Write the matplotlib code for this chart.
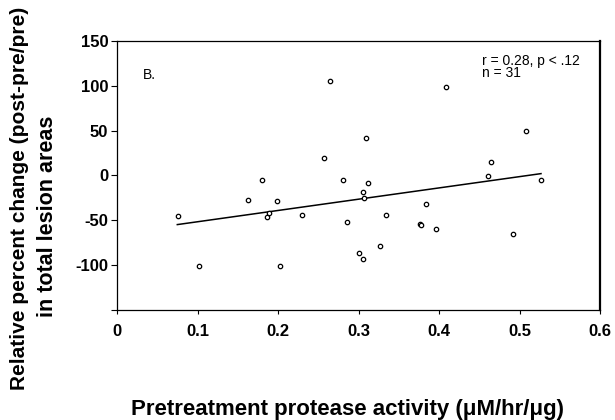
import matplotlib
matplotlib.use("Agg")
import matplotlib.pyplot as plt

plt.rcParams['font.family'] = ['Liberation Sans', 'DejaVu Sans']

# Data
protease = [0.075, 0.102, 0.163, 0.180, 0.186, 0.188, 0.198, 0.202, 0.230, 0.257,
            0.264, 0.280, 0.285, 0.300, 0.306, 0.306, 0.307, 0.309, 0.312, 0.326,
            0.334, 0.376, 0.377, 0.384, 0.396, 0.409, 0.461, 0.464, 0.492, 0.508,
            0.526]
change = [-45, -101, -27, -5.5, -46.5, -42.5, -29, -101, -44, 20,
          106, -5.5, -52, -87, -94, -19, -25, 42, -8, -79,
          -44, -54, -56, -32, -60, 99, -1, 15, -65, 50,
          -5.5]
fit_x = [0.0746, 0.5266]
fit_y = [-55, 2]

x_ticks = [0, 0.1, 0.2, 0.3, 0.4, 0.5, 0.6]
x_tick_labels = ['0', '0.1', '0.2', '0.3', '0.4', '0.5', '0.6']
y_ticks = [-150, -100, -50, 0, 50, 100, 150]
y_tick_labels = ['', '-100', '-50', '0', '50', '100', '150']

fig = plt.figure(figsize=(6.15, 4.2), dpi=100)
ax = fig.add_axes([0.1907, 0.263, 0.785, 0.6387])

ax.scatter(protease, change, s=10, facecolors='white', edgecolors='black',
           linewidths=0.9, zorder=3)
ax.plot(fit_x, fit_y, color='black', lw=1.1, zorder=2)

ax.set_xlim(0, 0.6)
ax.set_ylim(-150, 150)
ax.set_xticks(x_ticks)
ax.set_xticklabels(x_tick_labels, fontsize=12, fontweight='bold')
ax.set_yticks(y_ticks)
ax.set_yticklabels(y_tick_labels, fontsize=12, fontweight='bold')
ax.tick_params(axis='x', direction='out', length=3, width=0.8, pad=7.5)
ax.tick_params(axis='y', direction='out', length=4, width=0.8, pad=2.5)
for side in ['left', 'bottom', 'top']:
    ax.spines[side].set_linewidth(0.9)
ax.spines['right'].set_linewidth(1.6)

ax.text(0.032, 112, 'B.', fontsize=10, va='center', ha='left')
ax.text(0.453, 136, 'r = 0.28, p < .12\nn = 31', fontsize=10, va='top',
        ha='left', linespacing=0.88)

fig.text(0.565, 0.024, 'Pretreatment protease activity (\u03bcM/hr/\u03bcg)',
         fontsize=16, fontweight='bold', ha='center', va='center')
fig.text(0.032, 0.528, 'Relative percent change (post-pre/pre)',
         fontsize=15, fontweight='bold', rotation=90, ha='center', va='center')
fig.text(0.077, 0.486, 'in total lesion areas',
         fontsize=15.5, fontweight='bold', rotation=90, ha='center', va='center')

fig.savefig('out.png', dpi=100)
